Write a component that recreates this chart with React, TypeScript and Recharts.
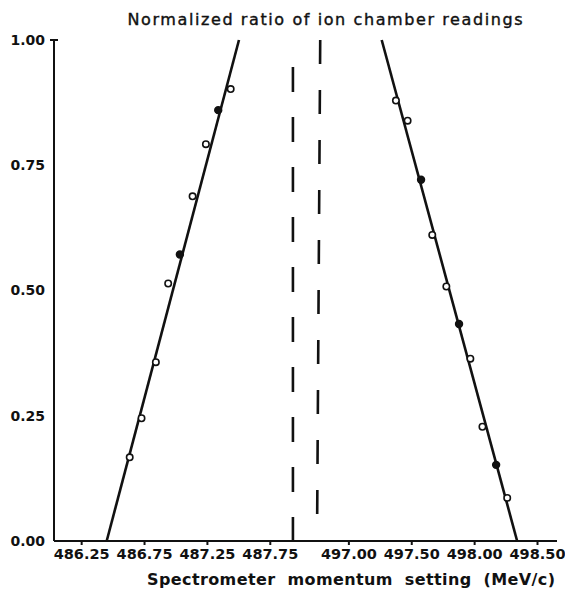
import React from 'react';
import { ComposedChart, Scatter, XAxis, YAxis, ReferenceLine } from 'recharts';

// measured points, left and right edge of the line
const leftMomentum = [486.632, 486.726, 486.84, 486.938, 487.031, 487.132, 487.238, 487.336, 487.435];
const leftRatio = [0.167, 0.245, 0.357, 0.514, 0.572, 0.688, 0.792, 0.86, 0.902];
const leftSolid = [false, false, false, false, true, false, false, true, false];

const rightMomentum = [497.374, 497.467, 497.574, 497.663, 497.775, 497.876, 497.966, 498.062, 498.171, 498.259];
const rightRatio = [0.879, 0.839, 0.721, 0.611, 0.508, 0.433, 0.364, 0.228, 0.152, 0.086];
const rightSolid = [false, false, true, false, false, true, false, false, true, false];

// straight-line fits
const leftFitMomentum = [486.449, 487.501];
const leftFitRatio = [0, 1];
const rightFitMomentum = [497.261, 498.338];
const rightFitRatio = [1, 0];

// dashed markers inside the axis break
const leftMarkMomentum = [487.93, 487.93];
const leftMarkRatio = [0.946, 0];
const rightMarkMomentum = [496.772, 496.748];
const rightMarkRatio = [1, 0.054];

const xTicks = [486.25, 486.75, 487.25, 487.75, 497.0, 497.5, 498.0, 498.5];
const xTickLabels = ['486.25', '486.75', '487.25', '487.75', '497.00', '497.50', '498.00', '498.50'];
const yTicks = [0, 0.25, 0.5, 0.75, 1];
const yTickLabels = ['0.00', '0.25', '0.50', '0.75', '1.00'];

// the x axis is broken between 487.75 and 497.00
const GAP = 0.625;
const toAxis = (m: number) => (m > 490 ? m - 497 + 487.75 + GAP : m);

const pts = (xs: number[], ys: number[], solid?: boolean[]) =>
    xs.map((m, i) => ({ u: toAxis(m), ratio: ys[i], solid: solid ? solid[i] : false }));

const leftData = pts(leftMomentum, leftRatio, leftSolid);
const rightData = pts(rightMomentum, rightRatio, rightSolid);
const leftFit = pts(leftFitMomentum, leftFitRatio);
const rightFit = pts(rightFitMomentum, rightFitRatio);

const font = '"DejaVu Sans", sans-serif';

const Dot = (props: any) => {
    const { cx, cy, payload } = props;
    if (cx == null || cy == null) return <g />;
    return (
        <circle
            cx={cx}
            cy={cy}
            r={payload.solid ? 3.4 : 3.2}
            fill={payload.solid ? '#111' : '#fff'}
            stroke="#111"
            strokeWidth={1.6}
        />
    );
};

const NoDot = () => <g />;

const YTick = (props: any) => {
    const { x, y, index } = props;
    return (
        <g>
            <text x={x} y={y} dy="0.35em" textAnchor="end" fontFamily={font} fontWeight="bold" fontSize={14} fill="#111">
                {yTickLabels[index]}
            </text>
            {index === yTicks.length - 1 && <line x1={x + 5} x2={x + 13} y1={y} y2={y} stroke="#111" strokeWidth={2} />}
        </g>
    );
};

export default function App() {
    return (
        <div style={{ position: 'absolute', left: 0, top: 0, width: 565, height: 590, background: '#fff' }}>
            <ComposedChart width={565} height={590} data={leftData} margin={{ top: 40, right: 8, bottom: 19, left: 0 }}>
                <XAxis
                    type="number"
                    dataKey="u"
                    domain={[486.03, 490.03]}
                    allowDataOverflow
                    ticks={xTicks.map(toAxis)}
                    tickFormatter={(_v: number, i: number) => xTickLabels[i]}
                    interval={0}
                    height={30}
                    stroke="#111"
                    strokeWidth={2}
                    tickSize={4}
                    tickMargin={4}
                    tick={{ fill: '#111', fontFamily: font, fontWeight: 'bold', fontSize: 14.5 }}
                />
                <YAxis
                    type="number"
                    dataKey="ratio"
                    domain={[0, 1]}
                    ticks={yTicks}
                    interval={0}
                    width={54}
                    stroke="#111"
                    strokeWidth={2}
                    tickLine={false}
                    tickSize={0}
                    tickMargin={9}
                    tick={<YTick />}
                />
                <ReferenceLine
                    segment={[
                        { x: toAxis(leftMarkMomentum[0]), y: leftMarkRatio[0] },
                        { x: toAxis(leftMarkMomentum[1]), y: leftMarkRatio[1] },
                    ]}
                    stroke="#111"
                    strokeWidth={2.6}
                    strokeDasharray="25 25"
                    ifOverflow="extendDomain"
                />
                <ReferenceLine
                    segment={[
                        { x: toAxis(rightMarkMomentum[0]), y: rightMarkRatio[0] },
                        { x: toAxis(rightMarkMomentum[1]), y: rightMarkRatio[1] },
                    ]}
                    stroke="#111"
                    strokeWidth={2.6}
                    strokeDasharray="24 26"
                    ifOverflow="extendDomain"
                />
                <Scatter data={leftFit} dataKey="ratio" line={{ stroke: '#111', strokeWidth: 2.6 }} lineType="joint" shape={<NoDot />} isAnimationActive={false} />
                <Scatter data={rightFit} dataKey="ratio" line={{ stroke: '#111', strokeWidth: 2.6 }} lineType="joint" shape={<NoDot />} isAnimationActive={false} />
                <Scatter data={leftData} dataKey="ratio" shape={<Dot />} isAnimationActive={false} />
                <Scatter data={rightData} dataKey="ratio" shape={<Dot />} isAnimationActive={false} />
            </ComposedChart>
            <svg width={565} height={590} style={{ position: 'absolute', left: 0, top: 0, pointerEvents: 'none' }}>
                <text x={325} y={19} dy="0.35em" textAnchor="middle" fontFamily={font} fontSize={16} fill="#111" stroke="#111" strokeWidth={0.4} textLength={395} lengthAdjust="spacing">
                    Normalized ratio of ion chamber readings
                </text>
                <text x={351} y={579} dy="0.35em" textAnchor="middle" fontFamily={font} fontWeight="bold" fontSize={16} fill="#111" textLength={408} lengthAdjust="spacing" style={{ whiteSpace: 'pre' }}>
                    Spectrometer  momentum  setting  (MeV/c)
                </text>
            </svg>
        </div>
    );
}
